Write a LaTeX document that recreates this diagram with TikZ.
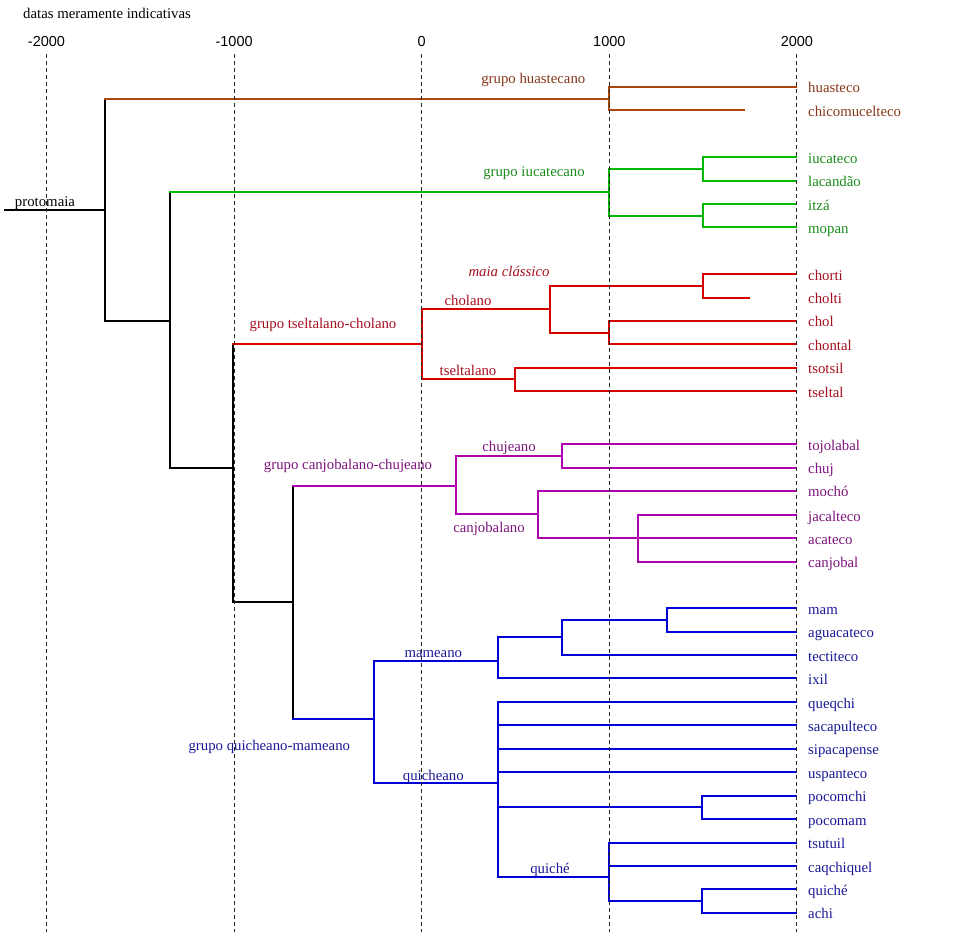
\documentclass[tikz,border=0pt]{standalone}
\usepackage{fontspec}
\setmainfont{Liberation Serif}
\newfontfamily\axisfont{Liberation Sans}
\definecolor{hstL}{RGB}{170,70,10}
\definecolor{hstT}{RGB}{135,55,25}
\definecolor{iucL}{RGB}{0,185,0}
\definecolor{iucT}{RGB}{25,140,25}
\definecolor{tcL}{RGB}{215,0,0}
\definecolor{tcT}{RGB}{165,15,30}
\definecolor{ccL}{RGB}{175,0,175}
\definecolor{ccT}{RGB}{125,20,125}
\definecolor{qmL}{RGB}{0,0,215}
\definecolor{qmT}{RGB}{25,25,150}
\tikzset{every node/.style={font=\fontsize{14.8}{17}\selectfont},
 branch/.style={line width=2pt, line cap=rect},
 dateline/.style={line width=1.1pt, black!85, dash pattern=on 4pt off 3pt},
 leaf/.style={anchor=west, inner xsep=12pt, inner ysep=0pt, text height=16pt, text depth=3.5pt},
 lbl/.style={anchor=mid, inner sep=0pt, yshift=-3pt},
 }

\begin{document}
\begin{tikzpicture}[x=1pt, y=-1pt]
    \useasboundingbox (0,0) rectangle (960,932);

    % leaves
    \foreach \nm/\txt/\y in {hst/huasteco/86.7, chm/chicomucelteco/110} {
        \node[leaf, text=hstT] (\nm) at (796, \y) {\txt};
    }
    \foreach \nm/\txt/\y in {iuc/iucateco/157, lac/lacandão/180.7, itz/itzá/204, mop/mopan/227.3} {
        \node[leaf, text=iucT] (\nm) at (796, \y) {\txt};
    }
    \foreach \nm/\txt/\y in {chr/chorti/274, clt/cholti/297.7, chl/chol/320.7, cht/chontal/344.3, tso/tsotsil/367.7, tse/tseltal/391} {
        \node[leaf, text=tcT] (\nm) at (796, \y) {\txt};
    }
    \foreach \nm/\txt/\y in {toj/tojolabal/444, chu/chuj/467.7, moc/mochó/490.7, jac/jacalteco/515, aca/acateco/538, can/canjobal/561.7} {
        \node[leaf, text=ccT] (\nm) at (796, \y) {\txt};
    }
    \foreach \nm/\txt/\y in {mam/mam/608, agu/aguacateco/631.7, tec/tectiteco/655, ixi/ixil/678.3, que/queqchi/702, sac/sacapulteco/725.3, sip/sipacapense/748.7, usp/uspanteco/772, pch/pocomchi/795.7, pcm/pocomam/819, tsu/tsutuil/842.7, caq/caqchiquel/866, qui/quiché/889.3, ach/achi/912.7} {
        \node[leaf, text=qmT] (\nm) at (796, \y) {\txt};
    }

    % branch points
    \coordinate (eProto) at (5, 209.7);
    \coordinate (nRoot) at (105.3, 209.7);
    \coordinate (nHst) at (609, 98.7);
    \coordinate (eChm) at (743.5, 110);
    \coordinate (nA) at (170, 321);
    \coordinate (nIuc) at (609, 192);
    \coordinate (nIuc1) at (703, 168.7);
    \coordinate (nIuc2) at (703, 216);
    \coordinate (nB) at (233.3, 467.7);
    \coordinate (nTC) at (421.7, 344.3);
    \coordinate (nChn) at (550, 309.3);
    \coordinate (nChn1) at (703, 286);
    \coordinate (eClt) at (749.3, 297.7);
    \coordinate (nChn2) at (609, 332.7);
    \coordinate (nTsl) at (515, 379.3);
    \coordinate (nC) at (292.7, 602.3);
    \coordinate (nCC) at (456, 485.7);
    \coordinate (nChj) at (562.3, 456);
    \coordinate (nCjb) at (538.3, 514);
    \coordinate (nCjb1) at (638.3, 538);
    \coordinate (nQM) at (374, 719.3);
    \coordinate (nMam) at (497.7, 660.7);
    \coordinate (nMam1) at (561.7, 637.3);
    \coordinate (nMam2) at (667.3, 620);
    \coordinate (nQch) at (497.7, 783.3);
    \coordinate (nPcm) at (702.3, 807.3);
    \coordinate (nQui) at (609, 877.3);
    \coordinate (nQui1) at (702.3, 901);

    % black trunk
    \draw[branch] (eProto) -- (nRoot);
    \draw[branch] (nRoot) -- (nRoot |- nHst);
    \draw[branch] (nRoot) |- (nA);
    \draw[branch] (nA) -- (nA |- nIuc);
    \draw[branch] (nA) |- (nB);
    \draw[branch] (nB) -- (nB |- nTC);
    \draw[branch] (nB) |- (nC);
    \draw[branch] (nC) -- (nC |- nCC);
    \draw[branch] (nC) -- (nC |- nQM);

    % huastecano
    \draw[branch, hstL] (nRoot |- nHst) -- (nHst);
    \draw[branch, hstL] (nHst) |- (hst.west);
    \draw[branch, hstL] (nHst) |- (eChm);

    % iucatecano
    \draw[branch, iucL] (nA |- nIuc) -- (nIuc);
    \draw[branch, iucL] (nIuc) |- (nIuc1);
    \draw[branch, iucL] (nIuc) |- (nIuc2);
    \draw[branch, iucL] (nIuc1) |- (iuc.west);
    \draw[branch, iucL] (nIuc1) |- (lac.west);
    \draw[branch, iucL] (nIuc2) |- (itz.west);
    \draw[branch, iucL] (nIuc2) |- (mop.west);

    % tseltalano-cholano
    \draw[branch, tcL] (nB |- nTC) -- (nTC);
    \draw[branch, tcL] (nTC) |- (nChn);
    \draw[branch, tcL] (nTC) |- (nTsl);
    \draw[branch, tcL] (nChn) |- (nChn1);
    \draw[branch, tcL] (nChn) |- (nChn2);
    \draw[branch, tcL] (nChn1) |- (chr.west);
    \draw[branch, tcL] (nChn1) |- (eClt);
    \draw[branch, tcL] (nChn2) |- (chl.west);
    \draw[branch, tcL] (nChn2) |- (cht.west);
    \draw[branch, tcL] (nTsl) |- (tso.west);
    \draw[branch, tcL] (nTsl) |- (tse.west);

    % canjobalano-chujeano
    \draw[branch, ccL] (nC |- nCC) -- (nCC);
    \draw[branch, ccL] (nCC) |- (nChj);
    \draw[branch, ccL] (nCC) |- (nCjb);
    \draw[branch, ccL] (nChj) |- (toj.west);
    \draw[branch, ccL] (nChj) |- (chu.west);
    \draw[branch, ccL] (nCjb) |- (moc.west);
    \draw[branch, ccL] (nCjb) |- (nCjb1);
    \foreach \c in {jac, aca, can} {
        \draw[branch, ccL] (nCjb1) |- (\c.west);
    }

    % quicheano-mameano
    \draw[branch, qmL] (nC |- nQM) -- (nQM);
    \draw[branch, qmL] (nQM) |- (nMam);
    \draw[branch, qmL] (nQM) |- (nQch);
    \draw[branch, qmL] (nMam) |- (nMam1);
    \draw[branch, qmL] (nMam) |- (ixi.west);
    \draw[branch, qmL] (nMam1) |- (nMam2);
    \draw[branch, qmL] (nMam1) |- (tec.west);
    \draw[branch, qmL] (nMam2) |- (mam.west);
    \draw[branch, qmL] (nMam2) |- (agu.west);
    \foreach \c in {que, sac, sip, usp} {
        \draw[branch, qmL] (nQch) |- (\c.west);
    }
    \draw[branch, qmL] (nQch) |- (nPcm);
    \draw[branch, qmL] (nQch) |- (nQui);
    \draw[branch, qmL] (nPcm) |- (pch.west);
    \draw[branch, qmL] (nPcm) |- (pcm.west);
    \draw[branch, qmL] (nQui) |- (tsu.west);
    \draw[branch, qmL] (nQui) |- (caq.west);
    \draw[branch, qmL] (nQui) |- (nQui1);
    \draw[branch, qmL] (nQui1) |- (qui.west);
    \draw[branch, qmL] (nQui1) |- (ach.west);

    % group labels
    \node[lbl] (proto) at (45, 201) {protomaia};
    \node[lbl, text=hstT] (gHst) at (533.3, 78) {grupo huastecano};
    \node[lbl, text=iucT] (gIuc) at (534, 171) {grupo iucatecano};
    \node[lbl, text=tcT] (gMaia) at (509, 271) {\itshape maia clássico};
    \node[lbl, text=tcT] (gChn) at (468, 300) {cholano};
    \node[lbl, text=tcT] (gTsl) at (468, 370) {tseltalano};
    \node[lbl, text=tcT] (gTC) at (323, 323) {grupo tseltalano-cholano};
    \node[lbl, text=ccT] (gChj) at (509, 446.5) {chujeano};
    \node[lbl, text=ccT] (gCC) at (348, 464) {grupo canjobalano-chujeano};
    \node[lbl, text=ccT] (gCjb) at (489, 527.5) {canjobalano};
    \node[lbl, text=qmT] (gMam) at (433.3, 652) {mameano};
    \node[lbl, text=qmT] (gQch) at (433.3, 775) {quicheano};
    \node[lbl, text=qmT] (gQM) at (269.3, 745) {grupo quicheano-mameano};
    \node[lbl, text=qmT] (gQui) at (550, 868) {quiché};

    % date axis
    \node[lbl, anchor=mid west] (note) at (23, 13) {datas meramente indicativas};
    \foreach \yr [count=\i] in {-2000, -1000, 0, 1000, 2000} {
        \node[lbl, font=\axisfont\fontsize{14.5}{17}\selectfont] (yr\i) at (421.7+0.1876*\yr, 41) {\yr};
        \draw[dateline] ([yshift=-13pt]yr\i.center) -- (yr\i |- 0,932);
    }
\end{tikzpicture}
\end{document}
